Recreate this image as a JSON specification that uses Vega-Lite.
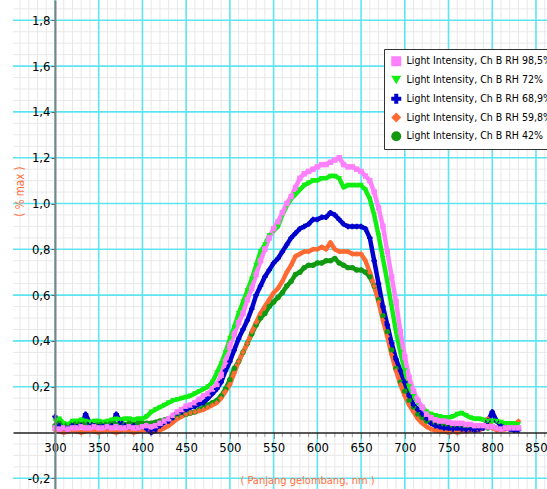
{
"$schema": "https://vega.github.io/schema/vega-lite/v6.json",
"width": 534, "height": 489,
"autosize": {"type": "none"},
"padding": {"left": 13, "top": 0, "right": 0, "bottom": 0},
"background": "white",
"config": {"view": {"stroke": null}, "locale": {"number": {"decimal": ",", "thousands": ".", "grouping": [3], "currency": ["", ""], "minus": "-"}}},
"datasets": {
"spec": [
{"x":300,"g42":0.03,"o60":0.01,"b69":0.07,"g72":0.05,"p98":0.02},
{"x":305,"g42":0.04,"o60":0.005,"b69":0.03,"g72":0.06,"p98":0.015},
{"x":310,"g42":0.035,"o60":0,"b69":0.02,"g72":0.04,"p98":0.02},
{"x":315,"g42":0.03,"o60":0.005,"b69":0.025,"g72":0.035,"p98":0.015},
{"x":320,"g42":0.035,"o60":0.01,"b69":0.03,"g72":0.05,"p98":0.02},
{"x":325,"g42":0.04,"o60":0.005,"b69":0.025,"g72":0.05,"p98":0.02},
{"x":330,"g42":0.035,"o60":0,"b69":0.03,"g72":0.055,"p98":0.025},
{"x":335,"g42":0.04,"o60":0.005,"b69":0.08,"g72":0.05,"p98":0.02},
{"x":340,"g42":0.035,"o60":0.01,"b69":0.04,"g72":0.045,"p98":0.02},
{"x":345,"g42":0.03,"o60":0.005,"b69":0.03,"g72":0.05,"p98":0.025},
{"x":350,"g42":0.035,"o60":0,"b69":0.025,"g72":0.05,"p98":0.02},
{"x":355,"g42":0.04,"o60":0.005,"b69":0.03,"g72":0.045,"p98":0.02},
{"x":360,"g42":0.035,"o60":0.01,"b69":0.025,"g72":0.05,"p98":0.025},
{"x":365,"g42":0.04,"o60":0.005,"b69":0.03,"g72":0.055,"p98":0.02},
{"x":370,"g42":0.035,"o60":0,"b69":0.08,"g72":0.06,"p98":0.025},
{"x":375,"g42":0.03,"o60":0.005,"b69":0.045,"g72":0.055,"p98":0.02},
{"x":380,"g42":0.035,"o60":0.01,"b69":0.03,"g72":0.06,"p98":0.02},
{"x":385,"g42":0.04,"o60":0.005,"b69":0.025,"g72":0.06,"p98":0.025},
{"x":390,"g42":0.035,"o60":0,"b69":0.03,"g72":0.055,"p98":0.02},
{"x":395,"g42":0.04,"o60":0.005,"b69":0.02,"g72":0.06,"p98":0.02},
{"x":400,"g42":0.04,"o60":0.01,"b69":0.025,"g72":0.06,"p98":0.025},
{"x":405,"g42":0.04,"o60":0.01,"b69":0.015,"g72":0.07,"p98":0.03},
{"x":410,"g42":0.04,"o60":0,"b69":0,"g72":0.09,"p98":0.025},
{"x":415,"g42":0.045,"o60":0.005,"b69":0.01,"g72":0.1,"p98":0.03},
{"x":420,"g42":0.05,"o60":0.01,"b69":0.03,"g72":0.11,"p98":0.04},
{"x":425,"g42":0.055,"o60":0.02,"b69":0.045,"g72":0.12,"p98":0.05},
{"x":430,"g42":0.06,"o60":0.03,"b69":0.05,"g72":0.13,"p98":0.06},
{"x":435,"g42":0.065,"o60":0.045,"b69":0.065,"g72":0.14,"p98":0.075},
{"x":440,"g42":0.07,"o60":0.06,"b69":0.085,"g72":0.145,"p98":0.09},
{"x":445,"g42":0.075,"o60":0.07,"b69":0.09,"g72":0.15,"p98":0.1},
{"x":450,"g42":0.08,"o60":0.08,"b69":0.1,"g72":0.155,"p98":0.115},
{"x":455,"g42":0.085,"o60":0.085,"b69":0.11,"g72":0.16,"p98":0.12},
{"x":460,"g42":0.09,"o60":0.09,"b69":0.115,"g72":0.17,"p98":0.13},
{"x":465,"g42":0.1,"o60":0.095,"b69":0.125,"g72":0.18,"p98":0.145},
{"x":470,"g42":0.11,"o60":0.1,"b69":0.13,"g72":0.19,"p98":0.16},
{"x":475,"g42":0.12,"o60":0.11,"b69":0.15,"g72":0.2,"p98":0.17},
{"x":480,"g42":0.13,"o60":0.12,"b69":0.17,"g72":0.22,"p98":0.19},
{"x":485,"g42":0.14,"o60":0.13,"b69":0.19,"g72":0.26,"p98":0.21},
{"x":490,"g42":0.16,"o60":0.15,"b69":0.22,"g72":0.3,"p98":0.25},
{"x":495,"g42":0.19,"o60":0.18,"b69":0.27,"g72":0.35,"p98":0.31},
{"x":500,"g42":0.23,"o60":0.21,"b69":0.31,"g72":0.41,"p98":0.38},
{"x":505,"g42":0.28,"o60":0.26,"b69":0.36,"g72":0.46,"p98":0.43},
{"x":510,"g42":0.31,"o60":0.31,"b69":0.41,"g72":0.52,"p98":0.48},
{"x":515,"g42":0.35,"o60":0.35,"b69":0.45,"g72":0.57,"p98":0.52},
{"x":520,"g42":0.39,"o60":0.39,"b69":0.49,"g72":0.62,"p98":0.58},
{"x":525,"g42":0.43,"o60":0.44,"b69":0.54,"g72":0.67,"p98":0.63},
{"x":530,"g42":0.47,"o60":0.48,"b69":0.6,"g72":0.73,"p98":0.69},
{"x":535,"g42":0.5,"o60":0.52,"b69":0.64,"g72":0.79,"p98":0.75},
{"x":540,"g42":0.52,"o60":0.55,"b69":0.68,"g72":0.82,"p98":0.8},
{"x":545,"g42":0.55,"o60":0.58,"b69":0.71,"g72":0.86,"p98":0.85},
{"x":550,"g42":0.57,"o60":0.61,"b69":0.74,"g72":0.88,"p98":0.89},
{"x":555,"g42":0.59,"o60":0.63,"b69":0.76,"g72":0.9,"p98":0.92},
{"x":560,"g42":0.61,"o60":0.66,"b69":0.79,"g72":0.95,"p98":0.96},
{"x":565,"g42":0.64,"o60":0.7,"b69":0.82,"g72":0.99,"p98":1.0},
{"x":570,"g42":0.66,"o60":0.73,"b69":0.85,"g72":1.02,"p98":1.03},
{"x":575,"g42":0.69,"o60":0.77,"b69":0.87,"g72":1.04,"p98":1.07},
{"x":580,"g42":0.7,"o60":0.78,"b69":0.89,"g72":1.06,"p98":1.11},
{"x":585,"g42":0.72,"o60":0.79,"b69":0.9,"g72":1.08,"p98":1.13},
{"x":590,"g42":0.73,"o60":0.79,"b69":0.91,"g72":1.09,"p98":1.14},
{"x":595,"g42":0.73,"o60":0.8,"b69":0.93,"g72":1.1,"p98":1.15},
{"x":600,"g42":0.74,"o60":0.8,"b69":0.93,"g72":1.1,"p98":1.16},
{"x":605,"g42":0.74,"o60":0.81,"b69":0.94,"g72":1.11,"p98":1.17},
{"x":610,"g42":0.75,"o60":0.8,"b69":0.94,"g72":1.11,"p98":1.17},
{"x":615,"g42":0.75,"o60":0.83,"b69":0.96,"g72":1.12,"p98":1.18},
{"x":620,"g42":0.76,"o60":0.8,"b69":0.95,"g72":1.12,"p98":1.19},
{"x":625,"g42":0.74,"o60":0.79,"b69":0.93,"g72":1.11,"p98":1.2},
{"x":630,"g42":0.73,"o60":0.79,"b69":0.91,"g72":1.07,"p98":1.17},
{"x":635,"g42":0.72,"o60":0.79,"b69":0.9,"g72":1.08,"p98":1.16},
{"x":640,"g42":0.72,"o60":0.78,"b69":0.9,"g72":1.08,"p98":1.16},
{"x":645,"g42":0.71,"o60":0.78,"b69":0.9,"g72":1.08,"p98":1.15},
{"x":650,"g42":0.71,"o60":0.78,"b69":0.9,"g72":1.08,"p98":1.14},
{"x":655,"g42":0.7,"o60":0.75,"b69":0.89,"g72":1.06,"p98":1.12},
{"x":660,"g42":0.68,"o60":0.7,"b69":0.85,"g72":1.02,"p98":1.1},
{"x":665,"g42":0.64,"o60":0.64,"b69":0.75,"g72":0.95,"p98":1.05},
{"x":670,"g42":0.58,"o60":0.57,"b69":0.65,"g72":0.86,"p98":0.98},
{"x":675,"g42":0.51,"o60":0.49,"b69":0.55,"g72":0.76,"p98":0.9},
{"x":680,"g42":0.44,"o60":0.42,"b69":0.47,"g72":0.66,"p98":0.79},
{"x":685,"g42":0.36,"o60":0.34,"b69":0.39,"g72":0.55,"p98":0.68},
{"x":690,"g42":0.28,"o60":0.27,"b69":0.32,"g72":0.44,"p98":0.57},
{"x":695,"g42":0.22,"o60":0.21,"b69":0.27,"g72":0.35,"p98":0.44},
{"x":700,"g42":0.18,"o60":0.16,"b69":0.22,"g72":0.27,"p98":0.33},
{"x":705,"g42":0.14,"o60":0.12,"b69":0.16,"g72":0.2,"p98":0.24},
{"x":710,"g42":0.11,"o60":0.09,"b69":0.12,"g72":0.16,"p98":0.18},
{"x":715,"g42":0.08,"o60":0.06,"b69":0.1,"g72":0.13,"p98":0.14},
{"x":720,"g42":0.065,"o60":0.04,"b69":0.08,"g72":0.11,"p98":0.11},
{"x":725,"g42":0.05,"o60":0.025,"b69":0.06,"g72":0.09,"p98":0.08},
{"x":730,"g42":0.045,"o60":0.015,"b69":0.04,"g72":0.08,"p98":0.065},
{"x":735,"g42":0.04,"o60":0.01,"b69":0.03,"g72":0.075,"p98":0.055},
{"x":740,"g42":0.04,"o60":0.005,"b69":0.025,"g72":0.07,"p98":0.05},
{"x":745,"g42":0.035,"o60":0.005,"b69":0.02,"g72":0.065,"p98":0.05},
{"x":750,"g42":0.035,"o60":0,"b69":0.02,"g72":0.065,"p98":0.045},
{"x":755,"g42":0.03,"o60":0.005,"b69":0.015,"g72":0.07,"p98":0.04},
{"x":760,"g42":0.03,"o60":0,"b69":0.02,"g72":0.08,"p98":0.04},
{"x":765,"g42":0.03,"o60":0.005,"b69":0.015,"g72":0.085,"p98":0.04},
{"x":770,"g42":0.03,"o60":0.005,"b69":0.01,"g72":0.075,"p98":0.035},
{"x":775,"g42":0.025,"o60":0.01,"b69":0.015,"g72":0.065,"p98":0.035},
{"x":780,"g42":0.03,"o60":0.01,"b69":0.01,"g72":0.06,"p98":0.03},
{"x":785,"g42":0.025,"o60":0.01,"b69":0.015,"g72":0.06,"p98":0.03},
{"x":790,"g42":0.025,"o60":0.02,"b69":0.02,"g72":0.055,"p98":0.03},
{"x":795,"g42":0.02,"o60":0.06,"b69":0.05,"g72":0.05,"p98":0.025},
{"x":800,"g42":0.025,"o60":0.02,"b69":0.09,"g72":0.05,"p98":0.025},
{"x":805,"g42":0.02,"o60":0.01,"b69":0.05,"g72":0.05,"p98":0.02},
{"x":810,"g42":0.02,"o60":0.01,"b69":0.03,"g72":0.045,"p98":0.015},
{"x":815,"g42":0.02,"o60":0.015,"b69":0.02,"g72":0.04,"p98":0.02},
{"x":820,"g42":0.02,"o60":0.015,"b69":0.015,"g72":0.04,"p98":0.02},
{"x":825,"g42":0.02,"o60":0.02,"b69":0.01,"g72":0.04,"p98":0.02},
{"x":830,"g42":0.02,"o60":0.05,"b69":0.01,"g72":0.035,"p98":0.02}
],
"names": [
{"k": "p98", "name": "Light Intensity, Ch B RH 98,5%"},
{"k": "g72", "name": "Light Intensity, Ch B RH 72%"},
{"k": "b69", "name": "Light Intensity, Ch B RH 68,9%"},
{"k": "o60", "name": "Light Intensity, Ch B RH 59,8%"},
{"k": "g42", "name": "Light Intensity, Ch B RH 42%"}
],
"gx": [{"v":260},{"v":270},{"v":280},{"v":290},{"v":310},{"v":320},{"v":330},{"v":340},{"v":360},{"v":370},{"v":380},{"v":390},{"v":410},{"v":420},{"v":430},{"v":440},{"v":460},{"v":470},{"v":480},{"v":490},{"v":510},{"v":520},{"v":530},{"v":540},{"v":560},{"v":570},{"v":580},{"v":590},{"v":610},{"v":620},{"v":630},{"v":640},{"v":660},{"v":670},{"v":680},{"v":690},{"v":710},{"v":720},{"v":730},{"v":740},{"v":760},{"v":770},{"v":780},{"v":790},{"v":810},{"v":820},{"v":830},{"v":840},{"v":860}],
"gy": [{"v":-0.15},{"v":-0.1},{"v":-0.05},{"v":0.05},{"v":0.1},{"v":0.15},{"v":0.25},{"v":0.3},{"v":0.35},{"v":0.45},{"v":0.5},{"v":0.55},{"v":0.65},{"v":0.7},{"v":0.75},{"v":0.85},{"v":0.9},{"v":0.95},{"v":1.05},{"v":1.1},{"v":1.15},{"v":1.25},{"v":1.3},{"v":1.35},{"v":1.45},{"v":1.5},{"v":1.55},{"v":1.65},{"v":1.7},{"v":1.75},{"v":1.85}],
"cx": [{"v":300},{"v":350},{"v":400},{"v":450},{"v":500},{"v":550},{"v":600},{"v":650},{"v":700},{"v":750},{"v":800},{"v":850}],
"cy": [{"v":-0.2},{"v":0.2},{"v":0.4},{"v":0.6},{"v":0.8},{"v":1.0},{"v":1.2},{"v":1.4},{"v":1.6},{"v":1.8}]
},
"layer": [
{"data": {"name": "gx"}, "mark": {"type": "rule", "color": "#e8e8e8", "strokeWidth": 1},
 "encoding": {"x": {"field": "v", "type": "quantitative", "scale": {"domain": [252, 862.6], "nice": false, "zero": false},
   "axis": {"orient": "bottom", "offset": -56.5, "zindex": 1,
    "values": [300,350,400,450,500,550,600,650,700,750,800,850], "format": "d",
    "grid": false, "domainColor": "#222222", "domainWidth": 1.5,
    "tickColor": "#8a8a8a", "tickWidth": 1, "tickSize": 6,
    "labelFont": "DejaVu Sans Condensed, sans-serif", "labelFontSize": 13, "labelColor": "#000000", "labelPadding": 3,
    "title": "( Panjang gelombang, nm )", "titleX": 294, "titleY": 48, "titleBaseline": "middle", "titleAlign": "center",
    "titleColor": "#ff7040", "titleFont": "DejaVu Sans Condensed, sans-serif", "titleFontSize": 11, "titleFontWeight": "normal"}}}},
{"data": {"name": "gy"}, "mark": {"type": "rule", "color": "#e8e8e8", "strokeWidth": 1},
 "encoding": {"y": {"field": "v", "type": "quantitative", "scale": {"domain": [-0.2467, 1.8887], "nice": false, "zero": false},
   "axis": {"orient": "left", "offset": -42, "zindex": 1,
    "values": [-0.2, 0.2, 0.4, 0.6, 0.8, 1.0, 1.2, 1.4, 1.6, 1.8], "format": ".1f",
    "grid": false, "domainColor": "#808080", "domainWidth": 2,
    "tickColor": "#666666", "tickSize": 4, "tickWidth": 1,
    "labelFont": "DejaVu Sans Condensed, sans-serif", "labelFontSize": 13, "labelColor": "#000000", "labelPadding": 1,
    "title": "( % max )", "titleX": -35, "titleY": 191, "titleAngle": 270, "titleBaseline": "middle", "titleAlign": "center",
    "titleColor": "#ff7040", "titleFont": "DejaVu Sans Condensed, sans-serif", "titleFontSize": 11.5, "titleFontWeight": "normal"}}}},
{"data": {"name": "cx"}, "mark": {"type": "rule", "color": "#5ee4f0", "strokeWidth": 1.6},
 "encoding": {"x": {"field": "v", "type": "quantitative", "scale": {"domain": [252, 862.6], "nice": false, "zero": false}}}},
{"data": {"name": "cy"}, "mark": {"type": "rule", "color": "#5ee4f0", "strokeWidth": 1.6},
 "encoding": {"y": {"field": "v", "type": "quantitative", "scale": {"domain": [-0.2467, 1.8887], "nice": false, "zero": false}}}},
{"data": {"name": "gx"}, "transform": [{"filter": "datum.v > 300"}],
 "mark": {"type": "tick", "orient": "vertical", "size": 4, "thickness": 1, "color": "#8a8a8a", "yOffset": 2.5},
 "encoding": {"x": {"field": "v", "type": "quantitative", "scale": {"domain": [252, 862.6], "nice": false, "zero": false}},
  "y": {"datum": 0, "type": "quantitative", "scale": {"domain": [-0.2467, 1.8887], "nice": false, "zero": false}}}},
{"data": {"name": "spec"},
 "transform": [{"fold": ["g42", "o60", "b69", "g72", "p98"], "as": ["series", "value"]},
  {"lookup": "series", "from": {"data": {"name": "names"}, "key": "k", "fields": ["name"]}}],
 "mark": {"type": "line", "strokeWidth": 4.5, "strokeJoin": "round"},
 "encoding": {
  "x": {"field": "x", "type": "quantitative", "scale": {"domain": [252, 862.6], "nice": false, "zero": false}},
  "y": {"field": "value", "type": "quantitative", "scale": {"domain": [-0.2467, 1.8887], "nice": false, "zero": false}},
  "detail": {"field": "name"},
  "color": {"field": "name", "type": "nominal",
   "scale": {"domain": ["Light Intensity, Ch B RH 98,5%", "Light Intensity, Ch B RH 72%", "Light Intensity, Ch B RH 68,9%", "Light Intensity, Ch B RH 59,8%", "Light Intensity, Ch B RH 42%"], "range": ["#ff80ff", "#11ee11", "#0000cc", "#ff6a33", "#119911"]},
   "legend": {"orient": "none", "legendX": 371, "legendY": 49, "title": null, "fillColor": "white", "strokeColor": "#333333", "padding": 7,
    "labelFont": "DejaVu Sans Condensed, sans-serif", "labelFontSize": 10.5, "labelLimit": 400, "labelOffset": 5,
    "symbolSize": 100, "symbolStrokeWidth": 0, "rowPadding": 7.75,
    "encode": {"labels": {"fill": {"condition": [
      {"test": "datum.value === 'Light Intensity, Ch B RH 98,5%'", "value": "#ff80ff"},
      {"test": "datum.value === 'Light Intensity, Ch B RH 72%'", "value": "#11dd11"},
      {"test": "datum.value === 'Light Intensity, Ch B RH 68,9%'", "value": "#0000cc"},
      {"test": "datum.value === 'Light Intensity, Ch B RH 59,8%'", "value": "#ff6a33"}], "value": "#119911"}},
     "legend": {"strokeWidth": {"value": 1.5}}}}}
 }},
{"data": {"name": "spec"},
 "transform": [{"fold": ["g42", "o60", "b69", "g72", "p98"], "as": ["series", "value"]},
  {"lookup": "series", "from": {"data": {"name": "names"}, "key": "k", "fields": ["name"]}}],
 "mark": {"type": "point", "filled": true, "size": 30, "opacity": 1},
 "encoding": {
  "x": {"field": "x", "type": "quantitative", "scale": {"domain": [252, 862.6], "nice": false, "zero": false}},
  "y": {"field": "value", "type": "quantitative", "scale": {"domain": [-0.2467, 1.8887], "nice": false, "zero": false}},
  "color": {"field": "name", "type": "nominal",
   "scale": {"domain": ["Light Intensity, Ch B RH 98,5%", "Light Intensity, Ch B RH 72%", "Light Intensity, Ch B RH 68,9%", "Light Intensity, Ch B RH 59,8%", "Light Intensity, Ch B RH 42%"], "range": ["#ff80ff", "#11ee11", "#0000cc", "#ff6a33", "#119911"]},
   "legend": {"orient": "none", "legendX": 371, "legendY": 49, "title": null, "fillColor": "white", "strokeColor": "#333333", "padding": 7,
    "labelFont": "DejaVu Sans Condensed, sans-serif", "labelFontSize": 10.5, "labelLimit": 400, "labelOffset": 5,
    "symbolSize": 100, "symbolStrokeWidth": 0, "rowPadding": 7.75,
    "encode": {"labels": {"fill": {"condition": [
      {"test": "datum.value === 'Light Intensity, Ch B RH 98,5%'", "value": "#ff80ff"},
      {"test": "datum.value === 'Light Intensity, Ch B RH 72%'", "value": "#11dd11"},
      {"test": "datum.value === 'Light Intensity, Ch B RH 68,9%'", "value": "#0000cc"},
      {"test": "datum.value === 'Light Intensity, Ch B RH 59,8%'", "value": "#ff6a33"}], "value": "#119911"}},
     "legend": {"strokeWidth": {"value": 1.5}}}}},
  "shape": {"field": "name", "type": "nominal",
   "scale": {"domain": ["Light Intensity, Ch B RH 98,5%", "Light Intensity, Ch B RH 72%", "Light Intensity, Ch B RH 68,9%", "Light Intensity, Ch B RH 59,8%", "Light Intensity, Ch B RH 42%"], "range": ["square", "triangle-down", "cross", "diamond", "circle"]},
   "legend": {"orient": "none", "legendX": 371, "legendY": 49, "title": null, "fillColor": "white", "strokeColor": "#333333", "padding": 7,
    "labelFont": "DejaVu Sans Condensed, sans-serif", "labelFontSize": 10.5, "labelLimit": 400, "labelOffset": 5,
    "symbolSize": 100, "symbolStrokeWidth": 0, "rowPadding": 7.75,
    "encode": {"labels": {"fill": {"condition": [
      {"test": "datum.value === 'Light Intensity, Ch B RH 98,5%'", "value": "#ff80ff"},
      {"test": "datum.value === 'Light Intensity, Ch B RH 72%'", "value": "#11dd11"},
      {"test": "datum.value === 'Light Intensity, Ch B RH 68,9%'", "value": "#0000cc"},
      {"test": "datum.value === 'Light Intensity, Ch B RH 59,8%'", "value": "#ff6a33"}], "value": "#119911"}},
     "legend": {"strokeWidth": {"value": 1.5}}}}}
 }}
]
}
